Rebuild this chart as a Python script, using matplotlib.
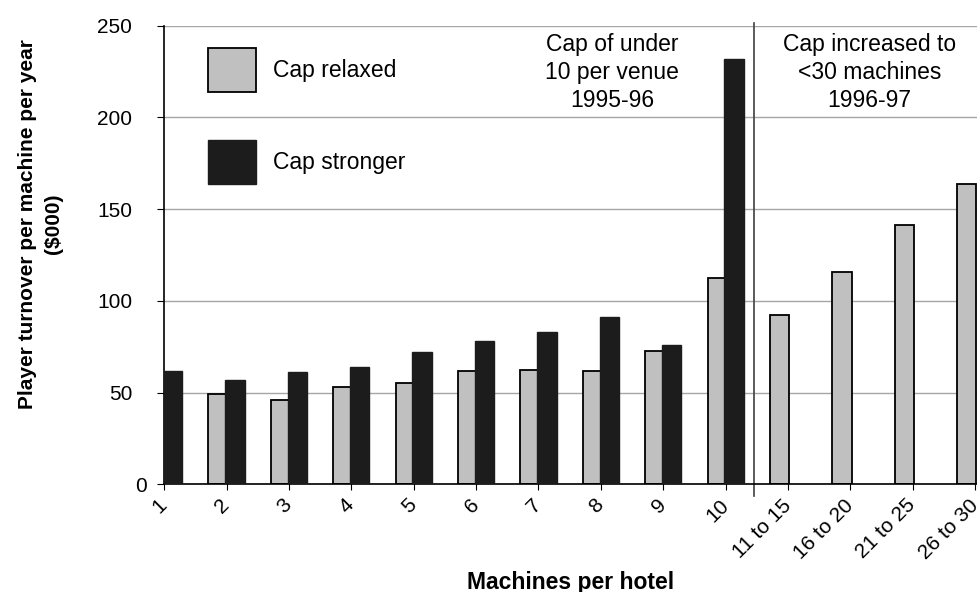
import numpy as np
from matplotlib import pyplot as plt
from matplotlib.patches import Patch
from matplotlib.transforms import ScaledTranslation

plt.rcParams['font.family'] = ['Liberation Sans', 'DejaVu Sans']

# categories and values ($000)
categories = ["1", "2", "3", "4", "5", "6", "7", "8", "9", "10",
              "11 to 15", "16 to 20", "21 to 25", "26 to 30"]
cap_relaxed = [np.nan, 49, 46, 53, 55, 62, 62.5, 62, 72.5, 112.5,
               92.5, 115.5, 141.5, 163.5]
cap_stronger = [62, 57, 61, 64, 72, 78, 83, 91, 76, 232,
                np.nan, np.nan, np.nan, np.nan]

x = np.arange(len(categories))
w = 0.31

fig = plt.figure(figsize=(9.77, 5.92), dpi=100)
ax = fig.add_axes([0.168, 0.182, 0.832, 0.7745])

ax.set_axisbelow(True)
ax.yaxis.grid(True, color="#a6a6a6", lw=1)

ax.bar(x - 0.29, cap_relaxed, width=w, align="edge", color="#c0c0c0",
       edgecolor="black", lw=1.3, label="Cap relaxed", zorder=2)
ax.bar(x - 0.02, cap_stronger, width=w, align="edge", color="#1c1c1c",
       edgecolor="#1c1c1c", lw=1, label="Cap stronger", zorder=3)

# divider between the two cap periods
ax.axvline(9.45, ymin=-0.026, ymax=1.005, color="#404040", lw=1.2, clip_on=False)

ax.text(7.18, 224.3, "Cap of under\n10 per venue\n1995-96", ha="center", va="center",
        fontsize=16.5, linespacing=1.28)
ax.text(11.31, 224.3, "Cap increased to\n<30 machines\n1996-97", ha="center", va="center",
        fontsize=16.5, linespacing=1.28)

ax.set_xlim(0, 13.03)
ax.set_ylim(0, 250)
ax.set_yticks([0, 50, 100, 150, 200, 250])
ax.set_xticks(x)
ax.set_xticklabels(categories, rotation=45, ha="right", va="center",
                   rotation_mode="anchor")
ax.tick_params(axis="both", labelsize=15, colors="black")
ax.tick_params(axis="x", direction="inout", length=8, pad=9)
ax.tick_params(axis="y", direction="out", length=5, pad=18)

# the "0" label sits further right than the others in the original
lab0 = ax.get_yticklabels()[0]
lab0.set_transform(lab0.get_transform() + ScaledTranslation(15 / 100, 0, fig.dpi_scale_trans))

for s in ["top", "right"]:
    ax.spines[s].set_visible(False)
ax.spines["left"].set_linewidth(1.2)
ax.spines["bottom"].set_linewidth(1.2)

ax.set_xlabel("Machines per hotel", fontsize=16.5, fontweight="bold")
ax.xaxis.set_label_coords(0.5, -0.189)
ax.set_ylabel("Player turnover per machine per year\n($000)", fontsize=15,
              fontweight="bold", linespacing=1.5)
ax.yaxis.set_label_coords(-0.124, 0.568)

handles = [Patch(facecolor="#c0c0c0", edgecolor="black", lw=1.3),
           Patch(facecolor="#1c1c1c", edgecolor="#1c1c1c")]
ax.legend(handles, ["Cap relaxed", "Cap stronger"], loc="upper left",
          bbox_to_anchor=(0.054, 0.951), frameon=False, fontsize=16.5,
          handlelength=2.1, handleheight=2.58, labelspacing=2.1,
          handletextpad=0.74, borderpad=0, borderaxespad=0)

fig.savefig("out.png", dpi=100)
